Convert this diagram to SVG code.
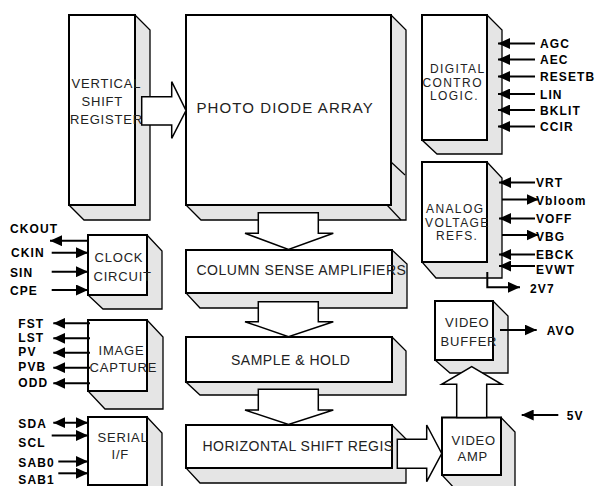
<svg xmlns="http://www.w3.org/2000/svg" width="598" height="486" viewBox="0 0 598 486">
<style>
.sh{fill:#e5e5e5;stroke:#000;stroke-width:1.3;stroke-linejoin:miter}
.fr{fill:#fff;stroke:#000;stroke-width:2}
.t{font-family:"Liberation Sans",Arial,sans-serif;font-size:13px;letter-spacing:0.8px;fill:#222}
.t12{font-family:"Liberation Sans",Arial,sans-serif;font-size:12px;letter-spacing:1.4px;fill:#222}
.tb{font-family:"Liberation Sans",Arial,sans-serif;font-size:14px;letter-spacing:0.5px;fill:#222}
.lb{font-family:"Liberation Sans",Arial,sans-serif;font-size:12px;font-weight:bold;letter-spacing:1.1px;fill:#000}
.ln{fill:none;stroke:#000;stroke-width:2}
.ba{fill:#fff;stroke:#000;stroke-width:1.5;stroke-linejoin:miter}
.in{fill:none;stroke:#000;stroke-width:1.2}
</style>
<defs>
<marker id="ah" viewBox="0 0 12 11" refX="12" refY="5.5" markerWidth="12" markerHeight="11" markerUnits="userSpaceOnUse" orient="auto-start-reverse">
<path d="M0,0 L12,5.5 L0,11 z" fill="#000"/>
</marker>
</defs>

<g id="vertical-shift-register">
<polygon class="sh" points="135,15 150,30 150,220 84,220 69,205"/>
<rect class="fr" x="69" y="15" width="66" height="190"/>
<text class="t" x="71.5" y="87.5">VERTICAL</text>
<text class="t" x="81.5" y="105.5">SHIFT</text>
<text class="t" x="70" y="124">REGISTER</text>
</g>

<g id="photo-diode-array">
<polygon class="sh" points="391,15 406,30 406,220 201,220 186,205"/>
<line class="in" x1="391" y1="162" x2="405" y2="175"/>
<line class="in" x1="387" y1="205" x2="401" y2="220"/>
<rect class="fr" x="186" y="15" width="205" height="190"/>
<text x="196.5" y="112.5" style="font-family:'Liberation Sans',Arial,sans-serif;font-size:15px;letter-spacing:1.1px;fill:#222">PHOTO DIODE ARRAY</text>
</g>

<g id="digital-control-logic">
<polygon class="sh" points="487,15 502,30 502,154 437,154 422,140"/>
<rect class="fr" x="422" y="15" width="65" height="125"/>
<text class="t12" x="430" y="73">DIGITAL</text>
<text class="t12" x="422.5" y="86.5">CONTRO</text>
<text class="t12" x="430" y="100">LOGIC.</text>
</g>

<g id="analog-voltage-refs">
<polygon class="sh" points="487,162 502,178 502,278 436,278 422,262"/>
<rect class="fr" x="422" y="162" width="65" height="100"/>
<text class="t12" x="426" y="213">ANALOG</text>
<text class="t12" x="425" y="226.5">VOLTAGE</text>
<text class="t12" x="436" y="240">REFS.</text>
</g>

<g id="clock-circuit">
<polygon class="sh" points="147,235 162,251 162,309 103,309 88,295"/>
<rect class="fr" x="88" y="235" width="59" height="60"/>
<text class="t" x="94.5" y="261.5">CLOCK</text>
<text class="t" x="93.5" y="280.5">CIRCUIT</text>
</g>

<g id="image-capture">
<polygon class="sh" points="147,320 163,337 163,409 105,409 88,391"/>
<rect class="fr" x="88" y="320" width="59" height="71"/>
<text class="t" x="98.5" y="354.5">IMAGE</text>
<text class="t" x="89.5" y="371.5">CAPTURE</text>
</g>

<g id="serial-if">
<polygon class="sh" points="147,417 162,433 162,500 103,500 88,485"/>
<rect class="fr" x="88" y="417" width="59" height="68"/>
<text class="t" x="97.5" y="441.5">SERIAL</text>
<text class="t" x="111.5" y="458.5">I/F</text>
</g>

<g id="column-sense-amplifiers">
<polygon class="sh" points="392,250 407,264 407,308 200,308 186,293"/>
<rect class="fr" x="186" y="250" width="206" height="43"/>
<text class="tb" x="196.5" y="275">COLUMN SENSE AMPLIFIERS</text>
</g>

<g id="sample-hold">
<polygon class="sh" points="392,337 406,351 406,395 200,395 186,382"/>
<rect class="fr" x="186" y="337" width="206" height="45"/>
<text class="tb" x="231" y="365">SAMPLE &amp; HOLD</text>
</g>

<g id="horizontal-shift-register">
<polygon class="sh" points="392,425 406,439 406,483 200,483 186,468"/>
<rect class="fr" x="186" y="425" width="206" height="43"/>
<text class="tb" x="202.5" y="451">HORIZONTAL SHIFT REGIS</text>
</g>

<g id="video-buffer">
<polygon class="sh" points="493,301 508,316 508,373 450,373 435,360"/>
<rect class="fr" x="435" y="301" width="58" height="59"/>
<text class="t" x="445" y="326.5">VIDEO</text>
<text class="t" x="440.5" y="346">BUFFER</text>
</g>

<g id="video-amp">
<polygon class="sh" points="501,417.5 515,432 515,490 456,490 442,475"/>
<rect class="fr" x="442" y="417.5" width="59" height="57.5"/>
<text class="t" x="451.5" y="445">VIDEO</text>
<text class="t" x="457.5" y="460.5">AMP</text>
</g>

<g id="connectors">
<polygon class="ba" points="141.7,96.7 171.7,96.7 171.7,81.7 186,110.5 171.7,138.3 171.7,125 141.7,125"/>
<polygon class="ba" points="258.3,212.7 318.3,212.7 318.3,233.3 333.3,233.3 288.5,249.5 245,233.3 258.3,233.3"/>
<polygon class="ba" points="258.3,301.7 318.3,301.7 318.3,321.7 333.3,321.7 288.5,336.7 245,321.7 258.3,321.7"/>
<polygon class="ba" points="258.3,389.3 318.3,389.3 318.3,410 333.3,410 288.5,424.5 245,410 258.3,410"/>
<polygon class="ba" points="397.3,439.3 426.7,439.3 426.7,425 441.7,453.5 426.7,481.7 426.7,468.3 397.3,468.3"/>
<polygon class="ba" points="456.7,417.5 456.7,384.3 441.7,384.3 471.7,366.7 501.7,384.3 486.7,384.3 486.7,417.5"/>

<line class="ln" x1="535" y1="43.5" x2="498" y2="43.5" marker-end="url(#ah)"/>
<line class="ln" x1="535" y1="59.5" x2="498" y2="59.5" marker-end="url(#ah)"/>
<line class="ln" x1="535" y1="76.5" x2="498" y2="76.5" marker-end="url(#ah)"/>
<line class="ln" x1="535" y1="94" x2="498" y2="94" marker-end="url(#ah)"/>
<line class="ln" x1="535" y1="110" x2="498" y2="110" marker-end="url(#ah)"/>
<line class="ln" x1="535" y1="126.5" x2="498" y2="126.5" marker-end="url(#ah)"/>

<line class="ln" x1="535" y1="182.5" x2="499" y2="182.5" marker-end="url(#ah)"/>
<line class="ln" x1="502" y1="199.5" x2="538.5" y2="199.5" marker-end="url(#ah)"/>
<line class="ln" x1="535" y1="218.5" x2="499" y2="218.5" marker-end="url(#ah)"/>
<line class="ln" x1="502" y1="235" x2="538.5" y2="235" marker-end="url(#ah)"/>
<line class="ln" x1="535" y1="254.5" x2="499" y2="254.5" marker-end="url(#ah)"/>
<line class="ln" x1="535" y1="266" x2="499" y2="266" marker-end="url(#ah)"/>
<polyline class="ln" points="487.3,272 487.3,287.3 520,287.3" marker-end="url(#ah)"/>

<line class="ln" x1="500" y1="330" x2="536.7" y2="330" marker-end="url(#ah)"/>
<line class="ln" x1="558.3" y1="415" x2="521.7" y2="415" marker-end="url(#ah)"/>

<line class="ln" x1="88" y1="240.7" x2="50" y2="240.7" marker-end="url(#ah)"/>
<line class="ln" x1="51.7" y1="252.7" x2="88" y2="252.7" marker-end="url(#ah)"/>
<line class="ln" x1="51.7" y1="271.7" x2="88" y2="271.7" marker-end="url(#ah)"/>
<line class="ln" x1="51.7" y1="290" x2="88" y2="290" marker-end="url(#ah)"/>

<line class="ln" x1="90" y1="323.3" x2="53.3" y2="323.3" marker-end="url(#ah)"/>
<line class="ln" x1="90" y1="338.3" x2="53.3" y2="338.3" marker-end="url(#ah)"/>
<line class="ln" x1="90" y1="352.7" x2="53.3" y2="352.7" marker-end="url(#ah)"/>
<line class="ln" x1="90" y1="367.7" x2="53.3" y2="367.7" marker-end="url(#ah)"/>
<line class="ln" x1="90" y1="383.3" x2="53.3" y2="383.3" marker-end="url(#ah)"/>

<line class="ln" x1="53.3" y1="422.7" x2="88" y2="422.7" marker-start="url(#ah)" marker-end="url(#ah)"/>
<line class="ln" x1="51.7" y1="435.5" x2="88" y2="435.5" marker-end="url(#ah)"/>
<line class="ln" x1="58.3" y1="461.5" x2="88" y2="461.5" marker-end="url(#ah)"/>
<line class="ln" x1="58.3" y1="473.3" x2="88" y2="473.3" marker-end="url(#ah)"/>
</g>

<g id="labels">
<text class="lb" x="540" y="48">AGC</text>
<text class="lb" x="540" y="64">AEC</text>
<text class="lb" x="540" y="81">RESETB</text>
<text class="lb" x="540" y="98.5">LIN</text>
<text class="lb" x="540" y="114.5">BKLIT</text>
<text class="lb" x="540" y="131">CCIR</text>
<text class="lb" x="536" y="187">VRT</text>
<text class="lb" x="536" y="204.5">Vbloom</text>
<text class="lb" x="536" y="223">VOFF</text>
<text class="lb" x="536" y="241">VBG</text>
<text class="lb" x="536" y="259">EBCK</text>
<text class="lb" x="536" y="273.5">EVWT</text>
<text class="lb" x="530" y="292.5">2V7</text>
<text class="lb" x="546.7" y="334.5">AVO</text>
<text class="lb" x="566.7" y="420">5V</text>
<text class="lb" x="10" y="233">CKOUT</text>
<text class="lb" x="11" y="257.3">CKIN</text>
<text class="lb" x="10" y="276.5">SIN</text>
<text class="lb" x="10" y="295">CPE</text>
<text class="lb" x="18.3" y="327.7">FST</text>
<text class="lb" x="18.3" y="341.7">LST</text>
<text class="lb" x="18.3" y="356">PV</text>
<text class="lb" x="18.3" y="370.7">PVB</text>
<text class="lb" x="18.3" y="387.3">ODD</text>
<text class="lb" x="18.3" y="427.7">SDA</text>
<text class="lb" x="18.3" y="446.5">SCL</text>
<text class="lb" x="18.3" y="466.5">SAB0</text>
<text class="lb" x="18.3" y="484">SAB1</text>
</g>
</svg>
